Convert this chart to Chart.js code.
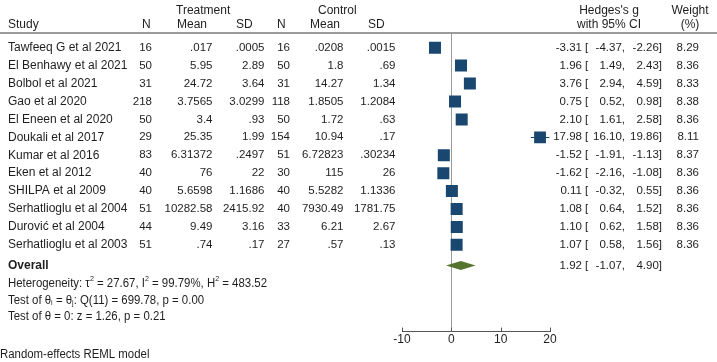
<!DOCTYPE html>
<html lang="en">
<head>
<meta charset="utf-8">
<script src="https://cdn.jsdelivr.net/npm/chart.js@4.4.1/dist/chart.umd.min.js"></script>
<style>
  html, body { margin: 0; padding: 0; width: 100%; height: 100%; overflow: hidden; background: #fff; }
  #wrap { position: relative; width: 717px; height: 362px; }
</style>
</head>
<body>
<div id="wrap"><canvas id="forest" width="717" height="362"></canvas></div>
<script>
  // table data
  const studies = ['Tawfeeq G et al 2021', 'El Benhawy et al 2021', 'Bolbol et al 2021', 'Gao et al 2020',
    'El Eneen et al 2020', 'Doukali et al 2017', 'Kumar et al 2016', 'Eken et al 2012', 'SHILPA et al 2009',
    'Serhatlioglu et al 2004', 'Durović et al 2004', 'Serhatlioglu et al 2003'];
  const treatN = [16, 50, 31, 218, 50, 29, 83, 40, 40, 51, 44, 51];
  const treatMean = ['.017', '5.95', '24.72', '3.7565', '3.4', '25.35', '6.31372', '76', '5.6598', '10282.58', '9.49', '.74'];
  const treatSD = ['.0005', '2.89', '3.64', '3.0299', '.93', '1.99', '.2497', '22', '1.1686', '2415.92', '3.16', '.17'];
  const ctrlN = [16, 50, 31, 118, 50, 154, 51, 30, 40, 40, 33, 27];
  const ctrlMean = ['.0208', '1.8', '14.27', '1.8505', '1.72', '10.94', '6.72823', '115', '5.5282', '7930.49', '6.21', '.57'];
  const ctrlSD = ['.0015', '.69', '1.34', '1.2084', '.63', '.17', '.30234', '26', '1.1336', '1781.75', '2.67', '.13'];
  const effect = [-3.31, 1.96, 3.76, 0.75, 2.10, 17.98, -1.52, -1.62, 0.11, 1.08, 1.10, 1.07];
  const ciLow = [-4.37, 1.49, 2.94, 0.52, 1.61, 16.10, -1.91, -2.16, -0.32, 0.64, 0.62, 0.58];
  const ciHigh = [-2.26, 2.43, 4.59, 0.98, 2.58, 19.86, -1.13, -1.08, 0.55, 1.52, 1.58, 1.56];
  const weight = [8.29, 8.36, 8.33, 8.38, 8.36, 8.11, 8.37, 8.36, 8.36, 8.36, 8.36, 8.36];
  const overall = { est: 1.92, lo: -1.07, hi: 4.90 };
  const xTicks = [-10, 0, 10, 20];

  const NAVY = '#1a476f';
  const GREEN = '#55752f';
  const INK = '#1e1e1e';
  const FONT = '"Liberation Sans", Arial, sans-serif';
  const SIZE = 11.5;
  const NAME_SIZE = 12;
  const overallRow = studies.length + 0.15;
  const maxW = Math.max(...weight);

  // rich text with sup/sub, squeezed horizontally
  function drawRich(ctx, segs, x, y, sx) {
    ctx.save();
    ctx.translate(x, y);
    ctx.scale(sx, 1);
    ctx.textAlign = 'left';
    let cx = 0;
    segs.forEach(([s, kind]) => {
      ctx.font = (kind ? '7.5px ' : NAME_SIZE + 'px ') + FONT;
      const dy = kind === 'sup' ? -4.5 : kind === 'sub' ? 3 : 0;
      ctx.fillText(s, cx, dy);
      cx += ctx.measureText(s).width;
    });
    ctx.restore();
  }
  function richWidth(ctx, segs) {
    let w = 0;
    segs.forEach(([s, kind]) => {
      ctx.font = (kind ? '7.5px ' : NAME_SIZE + 'px ') + FONT;
      w += ctx.measureText(s).width;
    });
    return w;
  }

  const hetLine = [['Heterogeneity: τ'], ['2', 'sup'], [' = 27.67, I'], ['2', 'sup'], [' = 99.79%, H'], ['2', 'sup'], [' = 483.52']];
  const qLine = [['Test of θ'], ['i', 'sub'], [' = θ'], ['j', 'sub'], [': Q(11) = 699.78, p = 0.00']];
  const zLine = [['Test of θ = 0: z = 1.26, p = 0.21']];
  const modelLine = [['Random-effects REML model']];

  const fmt = v => v.toFixed(2);

  const forestPlugin = {
    id: 'forest',
    beforeDatasetsDraw(chart) {
      const { ctx, chartArea, scales: { x, y } } = chart;
      ctx.save();
      // header rule
      ctx.strokeStyle = '#7a7a7a';
      ctx.lineWidth = 1.6;
      ctx.beginPath();
      ctx.moveTo(0, chartArea.top);
      ctx.lineTo(chart.width, chartArea.top);
      ctx.stroke();
      // no-effect line
      const x0 = Math.round(x.getPixelForValue(0)) + 0.5;
      ctx.strokeStyle = '#9a9a9a';
      ctx.lineWidth = 1;
      ctx.beginPath();
      ctx.moveTo(x0, chartArea.top);
      ctx.lineTo(x0, chartArea.bottom);
      ctx.stroke();
      // confidence intervals
      ctx.strokeStyle = NAVY;
      ctx.lineWidth = 1;
      effect.forEach((v, i) => {
        const py = Math.round(y.getPixelForValue(i)) + 0.5;
        ctx.beginPath();
        ctx.moveTo(x.getPixelForValue(ciLow[i]), py);
        ctx.lineTo(x.getPixelForValue(ciHigh[i]), py);
        ctx.stroke();
      });
      // overall diamond
      const oy = y.getPixelForValue(overallRow);
      ctx.fillStyle = GREEN;
      ctx.beginPath();
      ctx.moveTo(x.getPixelForValue(overall.lo), oy);
      ctx.lineTo(x.getPixelForValue(overall.est), oy - 4.5);
      ctx.lineTo(x.getPixelForValue(overall.hi), oy);
      ctx.lineTo(x.getPixelForValue(overall.est), oy + 4.5);
      ctx.closePath();
      ctx.fill();
      ctx.restore();
    },
    afterDraw(chart) {
      const { ctx, chartArea, scales: { x, y } } = chart;
      ctx.save();
      // inward tick marks
      ctx.strokeStyle = '#555';
      ctx.lineWidth = 1;
      xTicks.forEach(t => {
        const px = Math.round(x.getPixelForValue(t)) + 0.5;
        ctx.beginPath();
        ctx.moveTo(px, chartArea.bottom - 4);
        ctx.lineTo(px, chartArea.bottom);
        ctx.stroke();
      });

      ctx.fillStyle = INK;
      ctx.textBaseline = 'middle';
      const put = (s, px, py, align) => { ctx.textAlign = align; ctx.fillText(s, px, py); };

      // headers
      ctx.font = NAME_SIZE + 'px ' + FONT;
      put('Treatment', 176, 11, 'left');
      put('Control', 318, 11, 'left');
      put('Study', 8, 24.5, 'left');
      put('N', 142, 24.5, 'left');
      put('Mean', 177, 24.5, 'left');
      put('SD', 236, 24.5, 'left');
      put('N', 277, 24.5, 'left');
      put('Mean', 310, 24.5, 'left');
      put('SD', 368, 24.5, 'left');
      put("Hedges's g", 609, 11, 'center');
      put('with 95% CI', 609, 24.5, 'center');
      put('Weight', 690, 11, 'center');
      put('(%)', 690, 24.5, 'center');

      const ciText = (est, lo, hi, py) => {
        put(fmt(est), 582, py, 'right');
        put('[', 585, py, 'left');
        put(fmt(lo) + ',', 625, py, 'right');
        put(fmt(hi) + ']', 662, py, 'right');
      };

      studies.forEach((s, i) => {
        const py = y.getPixelForValue(i);
        ctx.font = NAME_SIZE + 'px ' + FONT;
        put(s, 8, py, 'left');
        ctx.font = SIZE + 'px ' + FONT;
        put(String(treatN[i]), 152, py, 'right');
        put(treatMean[i], 212.5, py, 'right');
        put(treatSD[i], 264.5, py, 'right');
        put(String(ctrlN[i]), 290, py, 'right');
        put(ctrlMean[i], 343.5, py, 'right');
        put(ctrlSD[i], 395.5, py, 'right');
        ciText(effect[i], ciLow[i], ciHigh[i], py);
        put(weight[i].toFixed(2), 699, py, 'right');
      });

      const oy = y.getPixelForValue(overallRow);
      ctx.font = 'bold ' + NAME_SIZE + 'px ' + FONT;
      put('Overall', 8, oy, 'left');
      ctx.font = SIZE + 'px ' + FONT;
      ciText(overall.est, overall.lo, overall.hi, oy);

      // footnotes, in a narrow face
      const sx = 259 / richWidth(ctx, hetLine);
      drawRich(ctx, hetLine, 8, 283.7, sx);
      drawRich(ctx, qLine, 8, 300.3, sx);
      drawRich(ctx, zLine, 8, 316.7, sx);
      drawRich(ctx, modelLine, 0, 355, sx);
      ctx.restore();
    }
  };

  new Chart(document.getElementById('forest'), {
    type: 'scatter',
    data: {
      datasets: [{
        data: effect.map((v, i) => ({ x: v, y: i })),
        pointStyle: 'rect',
        pointRadius: weight.map(w => 8.5 * Math.sqrt(w / maxW)),
        backgroundColor: NAVY,
        borderColor: NAVY,
        borderWidth: 0
      }]
    },
    options: {
      responsive: false,
      animation: false,
      events: [],
      layout: { padding: { left: 402, right: 167, top: 33, bottom: 14 } },
      plugins: { legend: { display: false }, tooltip: { enabled: false } },
      scales: {
        x: {
          type: 'linear',
          min: -10,
          max: 20,
          afterBuildTicks: s => { s.ticks = xTicks.map(v => ({ value: v })); },
          grid: { display: false, drawTicks: false },
          border: { display: true, color: '#555', width: 1 },
          ticks: { color: INK, font: { family: FONT, size: NAME_SIZE }, padding: 1, maxRotation: 0 }
        },
        y: { type: 'linear', display: false, reverse: true, min: -0.82, max: 15.84 }
      }
    },
    plugins: [forestPlugin]
  });
</script>
</body>
</html>
